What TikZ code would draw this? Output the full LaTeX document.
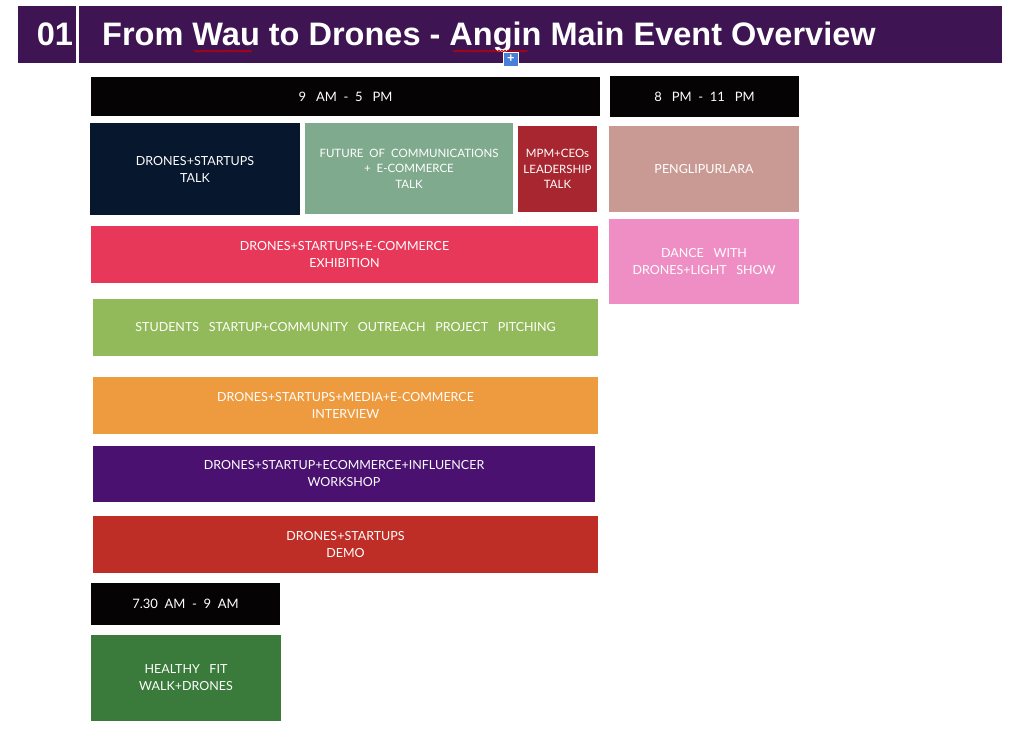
\documentclass[tikz,border=0pt]{standalone}
\usepackage{fontspec}
\setmainfont{Lato}
\newfontfamily\titlefont{Liberation Sans}
\usetikzlibrary{decorations.pathmorphing}
\definecolor{titlebg}{HTML}{3E1452}
\definecolor{cblack}{HTML}{050303}
\definecolor{cnavy}{HTML}{07172E}
\definecolor{csage}{HTML}{7FAA8D}
\definecolor{cmaroon}{HTML}{A8262F}
\definecolor{crose}{HTML}{C99A94}
\definecolor{cpink}{HTML}{EE8EC4}
\definecolor{ccrimson}{HTML}{E8385A}
\definecolor{clime}{HTML}{93BA5A}
\definecolor{corange}{HTML}{EE9A3E}
\definecolor{cpurple}{HTML}{4A1170}
\definecolor{cred}{HTML}{BE2E26}
\definecolor{cgreen}{HTML}{3A7A3A}
\definecolor{iconblue}{HTML}{4A7FD8}
\tikzset{
  box/.style={rectangle, inner sep=0pt, align=center, text=white,
    font=\fontsize{12.5}{17}\selectfont},
  timebox/.style={box, fill=cblack, font=\fontsize{13}{17}\selectfont},
  squig/.style={draw=red!80!black, line width=0.8pt, decorate,
    decoration={snake, amplitude=0.8pt, segment length=3pt}}
}
\begin{document}
\begin{tikzpicture}[x=1pt,y=-1pt]
\useasboundingbox (0,0) rectangle (1024,749);
\fill[white] (0,0) rectangle (1024,749);
% title bar
\fill[titlebg] (18,6) rectangle (1002,63);
\fill[white] (75.5,6) rectangle (78.5,63);
\node[anchor=base, text=white, font=\titlefont\bfseries\fontsize{32.5}{36}\selectfont] (num) at (55,46) {01};
\node[anchor=base west, text=white, inner sep=0pt, font=\titlefont\bfseries\fontsize{32.5}{36}\selectfont] (title) at (102,46) {From Wau to Drones - Angin Main Event Overview};
\draw[squig] (194,51) -- (252,51);
\draw[squig] (453,51) -- (528,51);
\node[fill=iconblue, draw=white, line width=0.6pt, minimum width=15pt, minimum height=14pt, inner sep=0pt, text=white, font=\fontsize{13}{13}\selectfont\bfseries] (icon) at (511,59) {+};
% time headers
\node[timebox, minimum width=509pt, minimum height=39pt] (t1) at (345.5,96.5) {9\ \ \ AM\ \ -\ \ 5\ \ \ PM};
\node[timebox, minimum width=189pt, minimum height=41pt] (t2) at (704.5,96.5) {8\ \ \ PM\ \ -\ \ 11\ \ \ PM};
\node[timebox, minimum width=189pt, minimum height=42pt] (t3) at (185.5,604) {7.30\ \ AM\ \ -\ \ 9\ \ AM};
% talks
\node[box, fill=cnavy, minimum width=210pt, minimum height=92pt] (talk1) at (195,169) {DRONES+STARTUPS\\TALK};
\node[box, fill=csage, minimum width=208pt, minimum height=91pt, font=\fontsize{11.5}{15.5}\selectfont] (talk2) at (409,168.5) {FUTURE\ \ OF\ \ COMMUNICATIONS\\+\ \ E-COMMERCE\\TALK};
\node[box, fill=cmaroon, minimum width=79pt, minimum height=86pt, font=\fontsize{11.5}{15.5}\selectfont] (talk3) at (557.5,169) {MPM+CEOs\\LEADERSHIP\\TALK};
% evening
\node[box, fill=crose, minimum width=190pt, minimum height=86pt] (peng) at (704,169) {PENGLIPURLARA};
\node[box, fill=cpink, minimum width=190pt, minimum height=85pt] (dance) at (704,261.5) {DANCE\ \ \ WITH\\DRONES+LIGHT\ \ \ SHOW};
% day events
\node[box, fill=ccrimson, minimum width=507pt, minimum height=57pt] (exhib) at (344.5,254.5) {DRONES+STARTUPS+E-COMMERCE\\EXHIBITION};
\node[box, fill=clime, minimum width=505pt, minimum height=57pt] (pitch) at (345.5,327.5) {STUDENTS\ \ \ STARTUP+COMMUNITY\ \ \ OUTREACH\ \ \ PROJECT\ \ \ PITCHING};
\node[box, fill=corange, minimum width=505pt, minimum height=57pt] (interv) at (345.5,405.5) {DRONES+STARTUPS+MEDIA+E-COMMERCE\\INTERVIEW};
\node[box, fill=cpurple, minimum width=502pt, minimum height=56pt] (work) at (344,474) {DRONES+STARTUP+ECOMMERCE+INFLUENCER\\WORKSHOP};
\node[box, fill=cred, minimum width=505pt, minimum height=57pt] (demo) at (345.5,544.5) {DRONES+STARTUPS\\DEMO};
% morning
\node[box, fill=cgreen, minimum width=190pt, minimum height=86pt] (walk) at (186,678) {HEALTHY\ \ \ FIT\\WALK+DRONES};
\end{tikzpicture}
\end{document}
